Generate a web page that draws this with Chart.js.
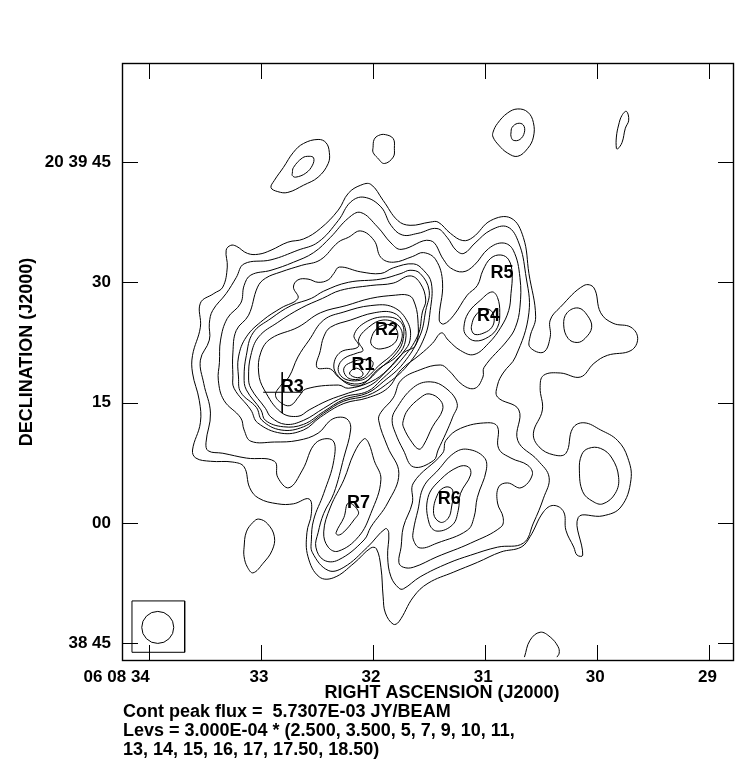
<!DOCTYPE html>
<html>
<head>
<meta charset="utf-8">
<style>
  html, body { margin: 0; padding: 0; background: #fff; }
  canvas { display: block; }
</style>
<script src="https://cdn.jsdelivr.net/npm/chart.js@4"></script>
</head>
<body>
<canvas id="contourmap" width="752" height="779"></canvas>
<script>
// axis ticks: RA seconds past 06 08, Dec arcsec past 20 39
var raTicks = [34, 33, 32, 31, 30, 29];
var raTickLabels = ['06 08 34', '33', '32', '31', '30', '29'];
var decTicks = [45, 30, 15, 0, -15];
var decTickLabels = ['20 39 45', '30', '15', '00', '38 45'];

// contours as [ra, dec]
var level2_5 = [[32.02,42.2],[31.91,40.2],[31.78,37.7],[31.67,37.1],[31.49,37.5],[31.42,37.5],[31.31,36.1],[31.20,35.2],[31.11,35.6],[30.95,37.7],[30.77,38.0],[30.66,35.6],[30.61,31.1],[30.55,25.7],[30.60,23.2],[30.60,21.9],[30.48,21.3],[30.42,23.2],[30.42,25.3],[30.33,26.9],[30.12,29.6],[30.03,29.3],[29.97,26.2],[29.86,24.9],[29.70,24.4],[29.64,23.0],[29.70,21.5],[29.91,20.9],[30.03,19.9],[30.15,18.2],[30.33,18.7],[30.48,18.4],[30.51,16.9],[30.49,14.1],[30.57,11.2],[30.52,9.5],[30.39,8.5],[30.28,8.7],[30.22,11.8],[30.12,12.5],[29.97,11.6],[29.82,10.3],[29.73,8.2],[29.70,5.4],[29.79,2.0],[29.95,0.9],[30.17,0.7],[30.13,-4.0],[30.18,-4.0],[30.21,-3.0],[30.28,-0.9],[30.30,1.4],[30.39,2.2],[30.48,1.4],[30.60,-1.7],[30.68,-3.0],[30.86,-3.6],[31.07,-4.9],[31.28,-6.1],[31.51,-7.5],[31.64,-9.2],[31.77,-12.3],[31.82,-12.6],[31.89,-11.2],[31.91,-9.2],[31.93,-5.5],[31.97,-3.2],[32.02,-3.1],[32.17,-5.0],[32.35,-6.8],[32.48,-6.7],[32.58,-4.2],[32.59,-1.2],[32.55,1.2],[32.57,3.0],[32.71,2.4],[32.85,2.4],[33.02,3.1],[33.10,4.4],[33.15,7.0],[33.25,7.6],[33.45,7.7],[33.58,8.1],[33.61,9.1],[33.54,12.5],[33.55,15.3],[33.61,18.7],[33.61,20.9],[33.54,24.4],[33.54,27.4],[33.42,28.6],[33.34,29.4],[33.30,31.9],[33.31,34.0],[33.27,34.6],[33.22,34.5],[33.12,33.6],[33.02,33.5],[32.91,34.0],[32.76,35.0],[32.62,35.4],[32.47,36.7],[32.31,39.0],[32.22,41.1],[32.11,42.1]];
var level3_5 = [[32.08,40.6],[31.93,39.4],[31.84,37.1],[31.74,35.9],[31.60,36.1],[31.43,36.7],[31.34,35.6],[31.26,34.0],[31.19,33.6],[31.09,34.9],[30.95,36.5],[30.80,36.9],[30.70,34.9],[30.64,31.1],[30.61,26.2],[30.73,20.7],[30.84,18.7],[30.89,17.2],[30.89,15.7],[30.70,14.1],[30.71,10.3],[30.53,7.8],[30.43,5.7],[30.48,3.1],[30.57,0.0],[30.66,-2.5],[30.89,-3.0],[31.13,-4.0],[31.33,-5.0],[31.58,-6.7],[31.73,-8.2],[31.77,-8.1],[31.84,-6.7],[31.87,-4.2],[31.86,-1.2],[31.89,-0.7],[32.05,-3.0],[32.26,-5.5],[32.40,-5.9],[32.54,-3.7],[32.55,-2.1],[32.53,0.4],[32.44,3.7],[32.35,7.8],[32.36,10.3],[32.51,10.0],[32.63,6.6],[32.75,4.4],[32.85,5.7],[32.88,7.7],[33.13,8.1],[33.34,8.7],[33.47,9.0],[33.49,10.0],[33.45,13.7],[33.51,17.4],[33.54,20.3],[33.46,22.8],[33.46,24.9],[33.43,26.5],[33.31,28.6],[33.22,30.6],[33.15,32.3],[32.91,32.8],[32.67,34.0],[32.49,35.0],[32.31,37.7],[32.20,40.0]];
var level5 = [[32.11,38.7],[31.96,36.9],[31.84,34.9],[31.75,34.1],[31.49,35.2],[31.37,32.8],[31.31,31.8],[31.20,31.3],[31.10,32.1],[30.97,34.2],[30.84,34.9],[30.75,34.0],[30.69,30.6],[30.69,26.9],[30.73,24.4],[30.80,22.8],[31.01,19.4],[31.02,18.2],[31.09,16.8],[31.20,17.2],[31.33,19.1],[31.40,19.7],[31.58,19.1],[31.75,17.8],[31.82,15.6],[31.93,13.8],[31.95,12.8],[31.87,9.5],[31.77,6.2],[31.87,2.5],[32.02,-0.5],[32.08,-2.1],[32.31,-4.6],[32.44,-4.6],[32.51,-3.0],[32.49,-1.2],[32.44,1.2],[32.35,3.7],[32.26,8.2],[32.20,11.6],[32.22,12.8],[32.29,13.2],[32.38,12.8],[32.49,11.2],[32.67,10.3],[32.88,10.1],[33.09,10.2],[33.15,11.6],[33.18,13.1],[33.33,15.3],[33.38,17.8],[33.37,20.0],[33.36,22.8],[33.30,25.5],[33.18,27.4],[33.15,29.6],[33.09,30.9],[32.91,31.5],[32.71,32.5],[32.53,33.7],[32.38,35.6],[32.22,38.0]];
var level7 = [[32.11,36.4],[31.99,35.2],[31.93,33.1],[31.82,32.5],[31.65,33.2],[31.55,33.7],[31.44,32.8],[31.38,29.9],[31.41,25.3],[31.37,24.8],[31.28,25.9],[31.16,28.4],[31.07,29.6],[31.02,31.5],[30.95,33.0],[30.86,33.4],[30.79,32.8],[30.76,31.1],[30.77,28.6],[30.79,26.5],[30.86,24.4],[30.97,22.4],[31.10,21.0],[31.22,21.5],[31.33,22.8],[31.39,23.7],[31.47,22.4],[31.58,21.0],[31.75,19.1],[31.87,16.8],[32.05,15.6],[32.26,14.9],[32.47,13.2],[32.62,11.6],[32.82,11.2],[33.03,12.5],[33.09,14.1],[33.24,16.8],[33.25,18.4],[33.25,21.2],[33.22,24.0],[33.11,25.9],[33.03,29.4],[32.96,30.5],[32.82,31.3],[32.64,32.1],[32.47,32.8],[32.31,35.0],[32.22,35.6]];
var level9 = [[33.20,18.2],[33.18,16.3],[33.04,14.4],[32.99,12.8],[32.82,11.6],[32.62,12.0],[32.44,13.7],[32.26,15.2],[32.05,15.9],[31.89,17.2],[31.69,19.7],[31.54,23.2],[31.49,26.5],[31.48,29.9],[31.55,31.5],[31.64,32.3],[31.82,31.8],[31.93,31.1],[32.11,31.3],[32.30,31.9],[32.35,31.1],[32.40,30.3],[32.49,30.0],[32.58,30.4],[32.67,30.3],[32.71,29.4],[32.67,28.0],[32.82,26.8],[32.98,25.3],[33.13,23.2],[33.20,20.7]];
var level10 = [[33.15,18.2],[33.13,16.6],[33.00,14.1],[32.96,12.8],[32.80,12.0],[32.62,12.3],[32.44,13.9],[32.26,15.4],[32.05,16.2],[31.91,17.6],[31.73,19.9],[31.58,23.4],[31.53,26.5],[31.50,29.0],[31.58,31.1],[31.67,31.5],[31.75,31.1],[31.93,30.4],[32.22,30.0],[32.44,28.9],[32.55,28.0],[32.73,27.1],[32.91,25.5],[33.07,23.7],[33.13,20.9]];
var level11 = [[33.11,18.2],[33.09,16.8],[32.96,14.3],[32.91,13.2],[32.78,12.3],[32.62,12.8],[32.44,14.3],[32.26,15.7],[32.05,16.4],[31.93,17.8],[31.75,20.3],[31.60,23.4],[31.56,26.3],[31.53,27.8],[31.58,29.9],[31.67,30.8],[31.82,29.9],[32.02,29.6],[32.29,29.0],[32.45,28.0],[32.64,26.8],[32.85,25.0],[33.02,23.2],[33.09,20.9]];
var level13 = [[32.47,26.2],[32.24,27.1],[32.02,28.0],[31.80,28.4],[31.69,28.4],[31.64,27.8],[31.60,25.3],[31.62,22.2],[31.73,21.2],[31.89,18.8],[32.02,17.2],[32.22,16.2],[32.40,15.3],[32.57,14.1],[32.67,13.3],[32.82,13.8],[32.97,16.6],[33.02,18.7],[33.00,21.3],[32.91,23.0],[32.67,24.4]];
var level14 = [[32.57,22.8],[32.44,25.3],[32.26,26.3],[32.02,27.1],[31.82,26.9],[31.69,25.0],[31.67,22.8],[31.73,21.3],[31.87,19.1],[32.02,17.6],[32.22,16.8],[32.31,17.2],[32.60,16.7],[32.66,15.8],[32.73,14.7],[32.80,14.8],[32.87,15.9],[32.82,17.2],[32.75,18.2],[32.67,20.7]];
var level15 = [[32.50,19.4],[32.38,19.2],[32.31,18.2],[32.20,17.2],[32.09,17.3],[31.96,19.1],[31.78,20.9],[31.71,22.8],[31.73,24.9],[31.82,26.2],[31.99,26.2],[32.20,25.3],[32.38,24.4],[32.44,23.2],[32.47,21.5]];
var level16 = [[32.35,19.7],[32.29,21.3],[32.13,22.0],[32.17,23.4],[32.07,25.0],[31.89,25.7],[31.75,25.0],[31.73,23.0],[31.79,21.2],[31.95,19.1],[32.07,17.6],[32.20,17.4],[32.31,18.3]];
var level17 = [[32.31,19.4],[32.26,20.5],[32.14,21.2],[32.09,21.5],[32.13,22.8],[32.04,24.4],[31.91,25.3],[31.78,24.7],[31.74,23.2],[31.81,21.3],[31.95,19.6],[32.05,18.2],[32.11,17.8],[32.22,17.8],[32.29,18.4]];
var peakR2 = [[32.02,22.8],[31.96,24.3],[31.84,24.7],[31.78,23.7],[31.81,22.4],[31.93,21.7],[32.00,22.0]];
var peakR1a = [[32.26,19.3],[32.20,20.0],[32.07,20.4],[32.00,20.0],[32.04,18.8],[32.09,18.1],[32.18,17.9],[32.24,18.3]];
var peakR1b = [[32.21,18.7],[32.15,19.3],[32.09,18.7],[32.11,18.2],[32.17,18.2]];
var southA = [[31.83,12.8],[31.80,14.1],[31.64,16.9],[31.49,17.6],[31.35,16.8],[31.25,14.9],[31.29,13.2],[31.35,11.2],[31.42,9.1],[31.46,7.8],[31.64,7.0],[31.73,9.1],[31.80,11.2]];
var southB = [[31.73,12.8],[31.69,14.1],[31.58,15.6],[31.50,16.1],[31.40,15.3],[31.38,14.1],[31.47,12.0],[31.55,9.7],[31.59,9.2],[31.65,10.0],[31.73,12.0]];
var r6a = [[31.77,-4.9],[31.73,-5.5],[31.64,-5.5],[31.43,-4.2],[31.13,-2.5],[30.86,-0.5],[30.84,0.7],[30.89,2.5],[30.88,4.5],[30.80,5.0],[30.68,4.4],[30.58,6.0],[30.62,7.2],[30.77,8.1],[30.88,9.3],[30.89,12.0],[30.98,12.5],[31.22,11.8],[31.35,10.3],[31.38,8.7],[31.64,5.0],[31.65,2.5],[31.73,-0.5],[31.75,-3.0]];
var r6b = [[31.64,-2.1],[31.58,-3.1],[31.43,-2.5],[31.16,-0.9],[31.10,0.7],[31.07,3.2],[30.99,6.6],[31.01,8.2],[31.16,9.2],[31.28,8.7],[31.42,6.6],[31.55,4.5],[31.60,1.6],[31.64,-0.9]];
var r6c = [[31.50,0.0],[31.43,-1.0],[31.29,-0.2],[31.24,1.6],[31.22,3.7],[31.13,6.0],[31.15,7.0],[31.24,7.0],[31.40,5.4],[31.51,3.2]];
var r6d = [[31.46,1.2],[31.40,0.1],[31.33,0.6],[31.30,2.0],[31.29,4.1],[31.35,4.5],[31.42,3.7]];
var r7a = [[32.08,10.5],[32.17,8.7],[32.26,5.4],[32.38,2.0],[32.44,-1.1],[32.40,-3.0],[32.31,-3.5],[32.13,-1.7],[32.02,1.2],[31.93,5.4],[31.99,7.8],[32.04,10.0]];
var r7b = [[32.33,-1.2],[32.26,0.7],[32.22,2.5],[32.13,1.4],[32.17,0.4],[32.26,-1.1],[32.31,-1.5]];
var r4a = [[31.19,24.4],[31.15,26.2],[31.04,27.8],[30.94,28.8],[30.89,28.1],[30.87,26.2],[30.89,24.4],[30.97,23.2],[31.09,22.7],[31.17,23.4]];
var r4b = [[31.12,24.7],[31.09,25.8],[31.02,26.6],[30.95,26.5],[30.92,25.5],[30.94,24.4],[31.01,23.7],[31.09,23.5],[31.12,24.0]];
var islandA = [[32.91,41.8],[32.88,42.7],[32.80,44.3],[32.71,46.2],[32.62,47.3],[32.49,47.8],[32.42,47.4],[32.39,46.2],[32.40,44.8],[32.49,43.1],[32.62,42.1],[32.76,41.2],[32.85,41.3]];
var islandAin = [[32.72,43.6],[32.71,44.3],[32.63,45.5],[32.57,45.7],[32.53,45.5],[32.54,44.6],[32.60,43.6],[32.69,43.1],[32.72,43.3]];
var islandB = [[32.00,46.8],[31.99,47.8],[31.95,48.3],[31.89,48.4],[31.82,47.9],[31.81,46.7],[31.82,45.6],[31.90,44.8],[31.96,45.5],[32.00,46.2]];
var islandC = [[30.93,48.7],[30.89,49.8],[30.80,51.1],[30.71,51.6],[30.62,51.2],[30.57,49.9],[30.57,48.1],[30.62,46.7],[30.71,45.7],[30.80,46.1],[30.88,47.1],[30.93,48.1]];
var islandCin = [[30.77,48.6],[30.76,49.3],[30.71,49.8],[30.66,49.6],[30.65,48.7],[30.69,47.8],[30.75,47.7],[30.77,48.2]];
var islandD = [[29.83,46.7],[29.83,48.1],[29.81,49.6],[29.78,50.8],[29.74,51.3],[29.72,50.2],[29.75,49.2],[29.78,47.4],[29.82,46.6]];
var islandF = [[33.15,-3.0],[33.13,-1.1],[33.07,0.1],[33.02,0.5],[32.94,-0.1],[32.88,-1.7],[32.90,-3.4],[32.98,-5.0],[33.07,-6.2],[33.12,-5.5],[33.15,-4.2]];
var islandG = [[30.16,6.6],[30.14,8.5],[30.08,9.3],[29.97,9.3],[29.87,8.1],[29.81,5.7],[29.84,3.7],[29.95,2.4],[30.04,2.7],[30.13,3.9]];
var islandH = [[30.30,24.7],[30.27,26.2],[30.17,26.8],[30.09,25.9],[30.05,24.4],[30.11,23.0],[30.18,22.5],[30.26,23.0]];
var arcBottom = [[30.65,-16.7],[30.60,-14.6],[30.51,-13.6],[30.42,-14.2],[30.35,-15.4],[30.34,-16.2],[30.36,-16.7]];

var closedContours = [level2_5, level3_5, level5, level7, level9, level10, level11, level13, level14, level15, level16, level17,
    peakR2, peakR1a, peakR1b, southA, southB, r6a, r6b, r6c, r6d, r7a, r7b, r4a, r4b,
    islandA, islandAin, islandB, islandC, islandCin, islandD, islandF, islandG, islandH];
var openContours = [arcBottom];

// the cross on R3, the beam and its box
var crossH = [[32.98,16.3],[32.63,16.3]];
var crossV = [[32.81,18.8],[32.81,13.7]];
var beamBox = [[34.15,-9.7],[33.68,-9.7],[33.68,-16.1],[34.15,-16.1],[34.15,-9.7]];
var beamCentre = [[33.92,-13.0]];

var regionNames = ['R1', 'R2', 'R3', 'R4', 'R5', 'R6', 'R7'];
var regionRa = [32.09, 31.88, 32.72, 30.97, 30.85, 31.32, 32.13];
var regionDec = [19.7, 24.0, 16.9, 25.8, 31.1, 3.0, 2.5];

var footerLines = ['Cont peak flux =  5.7307E-03 JY/BEAM',
    'Levs = 3.000E-04 * (2.500, 3.500, 5, 7, 9, 10, 11,',
    '13, 14, 15, 16, 17, 17.50, 18.50)'];

var fontFamily = '"Liberation Sans", Arial, sans-serif';
var boldFont = 'bold 18px ' + fontFamily;
var tickFont = 'bold 17px ' + fontFamily;

var datasets = [];
closedContours.forEach(function (c) {
    datasets.push({ data: c, closed: true, showLine: true, tension: 0.4, borderColor: '#000', borderWidth: 1, pointRadius: 0 });
});
openContours.forEach(function (c) {
    datasets.push({ data: c, showLine: true, tension: 0.4, borderColor: '#000', borderWidth: 1, pointRadius: 0 });
});
[crossH, crossV, beamBox].forEach(function (c) {
    datasets.push({ data: c, showLine: true, tension: 0, borderColor: '#000', borderWidth: 1, pointRadius: 0 });
});
datasets.push({ data: beamCentre, showLine: false, pointRadius: 16, borderColor: '#000', borderWidth: 1, backgroundColor: 'rgba(0,0,0,0)' });

// scatter lines have no closed mode, radar's loop flags do the job
var closeLoops = {
    id: 'closeLoops',
    afterDatasetUpdate: function (chart, args) {
        if (!chart.data.datasets[args.index].closed) return;
        var line = args.meta.dataset;
        line._loop = true;
        line._fullLoop = true;
        line._pointsUpdated = false;
        delete line._segments;
        delete line._path;
    }
};

// frame, inward ticks and all the text the axes can't place themselves
var mapDecor = {
    id: 'mapDecor',
    afterDraw: function (chart) {
        var ctx = chart.ctx, a = chart.chartArea;
        var xs = chart.scales.x, ys = chart.scales.y;
        ctx.save();
        ctx.strokeStyle = '#000';
        ctx.lineWidth = 1.4;
        ctx.strokeRect(a.left - 0.5, a.top - 0.5, a.right - a.left + 1, a.bottom - a.top + 1);
        ctx.lineWidth = 1;
        ctx.beginPath();
        raTicks.forEach(function (v) {
            var px = Math.round(xs.getPixelForValue(v)) + 0.5;
            ctx.moveTo(px, a.bottom); ctx.lineTo(px, a.bottom - 15);
            ctx.moveTo(px, a.top); ctx.lineTo(px, a.top + 15);
        });
        decTicks.forEach(function (v) {
            var py = Math.round(ys.getPixelForValue(v)) + 0.5;
            ctx.moveTo(a.left, py); ctx.lineTo(a.left + 15, py);
            ctx.moveTo(a.right, py); ctx.lineTo(a.right - 15, py);
        });
        ctx.stroke();

        ctx.fillStyle = '#000';
        ctx.font = tickFont;
        ctx.textBaseline = 'middle';
        raTicks.forEach(function (v, i) {
            ctx.textAlign = i == 0 ? 'right' : 'center';
            ctx.fillText(raTickLabels[i], xs.getPixelForValue(v) + (i == 0 ? 1 : -2), 677);
        });
        ctx.font = boldFont;
        ctx.textAlign = 'center';
        regionNames.forEach(function (n, i) {
            ctx.fillText(n, xs.getPixelForValue(regionRa[i]), ys.getPixelForValue(regionDec[i]));
        });
        ctx.fillText('RIGHT ASCENSION (J2000)', 442, 693);
        ctx.save();
        ctx.translate(27, 352);
        ctx.rotate(-Math.PI / 2);
        ctx.fillText('DECLINATION (J2000)', 0, 0);
        ctx.restore();
        ctx.textAlign = 'left';
        footerLines.forEach(function (t, i) {
            ctx.fillText(t, 123, 712 + i * 19);
        });
        ctx.restore();
    }
};

var crt = document.getElementById('contourmap').getContext('2d');
new Chart(crt, {
    type: 'scatter',
    data: { datasets: datasets },
    plugins: [closeLoops, mapDecor],
    options: {
        responsive: false,
        animation: false,
        layout: { padding: { top: 64, right: 19, left: 0, bottom: 0 } },
        plugins: { legend: { display: false }, tooltip: { enabled: false } },
        scales: {
            x: {
                type: 'linear',
                reverse: true,
                min: 28.79,
                max: 34.23,
                grid: { display: false },
                border: { display: false },
                ticks: { display: false },
                afterBuildTicks: function (scale) {
                    scale.ticks = raTicks.map(function (v) { return { value: v }; });
                },
                afterFit: function (scale) { scale.height = 119; }
            },
            y: {
                type: 'linear',
                min: -17.06,
                max: 57.2,
                grid: { display: false },
                border: { display: false },
                ticks: {
                    color: '#000',
                    padding: 4,
                    font: { family: fontFamily, size: 17, weight: 'bold' },
                    callback: function (v) { return decTickLabels[decTicks.indexOf(v)]; }
                },
                afterBuildTicks: function (scale) {
                    scale.ticks = decTicks.map(function (v) { return { value: v }; });
                },
                afterFit: function (scale) { scale.width = 123; }
            }
        }
    }
});
</script>
</body>
</html>
